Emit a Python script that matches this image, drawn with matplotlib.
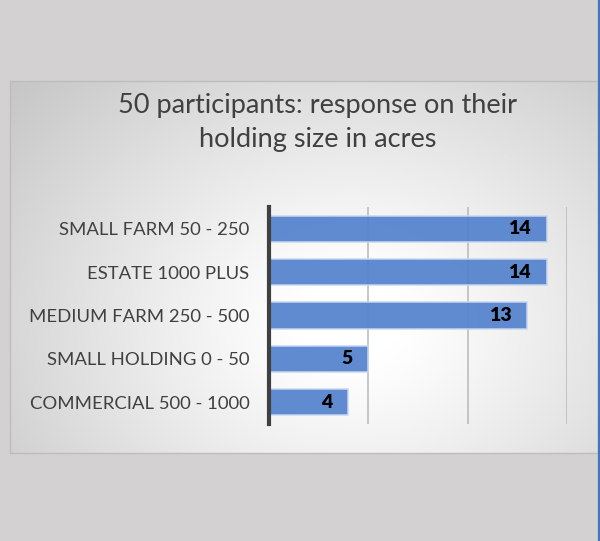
import numpy as np
import matplotlib
matplotlib.use("Agg")
import matplotlib.pyplot as plt

# === Dados ===
categories = ["SMALL FARM 50 - 250", "ESTATE 1000 PLUS", "MEDIUM FARM 250 - 500",
              "SMALL HOLDING 0 - 50", "COMMERCIAL 500 - 1000"]
counts = [14, 14, 13, 5, 4]
x_ticks = [0, 5, 10, 15]
title_lines = ["50 participants: response on their", "holding size in acres"]

W, H = 600, 541
plt.rcParams["font.family"] = ["Lato", "DejaVu Sans"]

fig = plt.figure(figsize=(W / 100, H / 100), dpi=100)
fig.patch.set_facecolor("#d3d1d1")

def px(x0, y0, x1, y1):
    # caixa em pixels (origem no topo) -> fracao da figura
    return [x0 / W, 1 - y1 / H, (x1 - x0) / W, (y1 - y0) / H]

# painel com gradiente radial
bg = fig.add_axes(px(10, 81, 598, 453))
gx, gy = np.meshgrid(np.linspace(0, 1, 300), np.linspace(0, 1, 200))
dist = np.sqrt(((gx - 0.58) / 0.75) ** 2 + ((gy - 0.65) / 0.95) ** 2)
shade = np.clip(1 - 0.25 * np.clip(dist - 0.12, 0, None) ** 1.1, 0.78, 1)
bg.imshow(np.dstack([shade] * 3), aspect="auto", extent=[0, 1, 0, 1], origin="upper")
bg.set_xticks([])
bg.set_yticks([])
for s in bg.spines.values():
    s.set_color("#bdbdbd")
    s.set_linewidth(1)

# linha azul na borda direita
fig.add_artist(plt.Line2D([599 / W, 599 / W], [0, 1], color="#4472c4", lw=1.6))

# titulo
fig.text(318 / W, 1 - 105 / H, title_lines[0], ha="center", va="center",
         fontsize=19.5, color="#404040")
fig.text(318 / W, 1 - 140 / H, title_lines[1], ha="center", va="center",
         fontsize=19.5, color="#404040")

# grafico de barras
ax = fig.add_axes(px(269, 207, 567, 424))
ax.set_facecolor("none")
ypos = np.arange(len(categories))
bars = ax.barh(ypos, counts, height=0.6, color="#4f7fcc", alpha=0.9,
               edgecolor="#c9d7ef", linewidth=1.2, zorder=3)
ax.set_xlim(0, 15)
ax.set_ylim(len(categories) - 0.5, -0.5)
ax.set_xticks(x_ticks)
ax.xaxis.grid(True, color="#b8b8b8", linewidth=1.1, zorder=1)
ax.tick_params(axis="x", length=0, labelbottom=False)
ax.set_yticks(ypos)
ax.set_yticklabels(categories, fontsize=13.3, color="#404040")
ax.tick_params(axis="y", length=0, pad=14)
for side in ["top", "right", "bottom"]:
    ax.spines[side].set_visible(False)
ax.spines["left"].set_color("#404040")
ax.spines["left"].set_linewidth(3)
ax.spines["left"].set_zorder(4)

for b, v in zip(bars, counts):
    ax.annotate(str(v), xy=(v, b.get_y() + b.get_height() / 2),
                xytext=(-11.5, 0), textcoords="offset points",
                ha="right", va="center", fontsize=14, fontweight="heavy",
                color="black", zorder=5)

fig.savefig("out.png", dpi=100, facecolor=fig.get_facecolor())
